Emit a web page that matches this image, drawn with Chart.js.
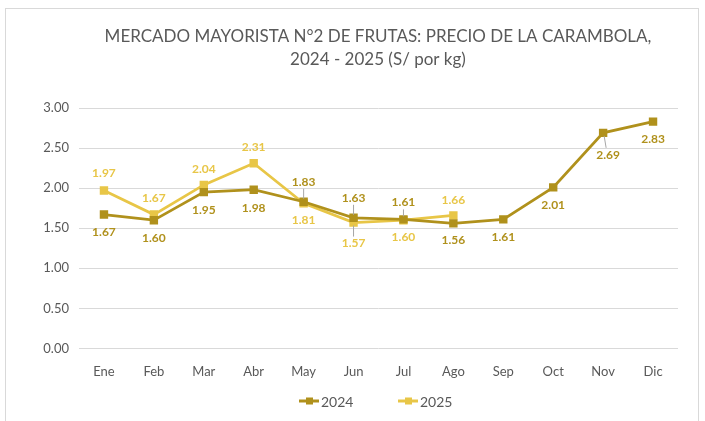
<!DOCTYPE html>
<html>
<head>
<meta charset="utf-8">
<script src="https://cdn.jsdelivr.net/npm/chart.js@4"></script>
<style>
  html, body { margin: 0; padding: 0; background: #fff; }
  #wrap { position: relative; width: 705px; height: 421px; }
  #frame { position: absolute; left: 5px; top: 8px; width: 694px; height: 420px; border: 1px solid #d9d9d9; box-sizing: border-box; }
  canvas { position: absolute; left: 0; top: 0; }
</style>
</head>
<body>
<div id="wrap">
  <div id="frame"></div>
  <canvas id="chart" width="705" height="421"></canvas>
</div>
<script>
const months = ['Ene', 'Feb', 'Mar', 'Abr', 'May', 'Jun', 'Jul', 'Ago', 'Sep', 'Oct', 'Nov', 'Dic'];
const price2024 = [1.67, 1.60, 1.95, 1.98, 1.83, 1.63, 1.61, 1.56, 1.61, 2.01, 2.69, 2.83];
const price2025 = [1.97, 1.67, 2.04, 2.31, 1.81, 1.57, 1.60, 1.66];
const yTicks = [0, 0.5, 1, 1.5, 2, 2.5, 3];
const titleLines = ['MERCADO MAYORISTA N°2 DE FRUTAS: PRECIO DE LA CARAMBOLA,', '2024 - 2025 (S/ por kg)'];

const col2024 = '#b0911c';
const col2025 = '#e8c647';
const fontFam = 'Lato, "Open Sans", sans-serif';

// where each value label sits relative to its point (dx, dy) and if it gets a leader line
const lab2024 = [[0,18],[0,18],[0,18],[0,18],[0,-20],[0,-20],[0,-17],[0,17],[0,18],[0,18],[5,22],[0,18]];
const lead2024 = [0,0,0,0,1,1,1,0,0,0,1,0];
const lab2025 = [[0,-17],[0,-16],[0,-16],[0,-16],[0,17],[0,21],[0,17],[0,-15]];
const lead2025 = [0,0,0,0,0,1,0,0];

const valueLabels = {
    id: 'valueLabels',
    afterDatasetsDraw(chart) {
        const ctx = chart.ctx;
        const sets = [[lab2024, lead2024, col2024], [lab2025, lead2025, col2025]];
        ctx.save();
        ctx.font = 'bold 12px ' + fontFam;
        ctx.textAlign = 'center';
        ctx.textBaseline = 'middle';
        chart.data.datasets.forEach((ds, di) => {
            const meta = chart.getDatasetMeta(di);
            const [offs, leads, c] = sets[di];
            meta.data.forEach((pt, i) => {
                const dx = offs[i][0], dy = offs[i][1];
                if (leads[i]) {
                    ctx.strokeStyle = '#a6a6a6';
                    ctx.lineWidth = 1;
                    const s = dy > 0 ? 1 : -1;
                    ctx.beginPath();
                    ctx.moveTo(pt.x + dx * 0.2, pt.y + s * 3);
                    ctx.lineTo(pt.x + dx * 0.6, pt.y + dy - s * 7);
                    ctx.stroke();
                }
                ctx.fillStyle = c;
                ctx.fillText(ds.data[i].toFixed(2), pt.x + dx, pt.y + dy);
            });
        });
        ctx.restore();
    }
};

// title (sits a bit right of centre, as in the original) and legend
const extras = {
    id: 'extras',
    afterDraw(chart) {
        const ctx = chart.ctx;
        ctx.save();
        ctx.fillStyle = '#595959';
        ctx.font = '17px ' + fontFam;
        ctx.textAlign = 'center';
        ctx.textBaseline = 'middle';
        ctx.fillText(titleLines[0], 378, 37);
        ctx.fillText(titleLines[1], 378, 60);

        const items = [['2024', col2024, 299], ['2025', col2025, 398]];
        const y = 401;
        ctx.font = '14px ' + fontFam;
        ctx.textAlign = 'left';
        items.forEach(([t, c, x]) => {
            ctx.strokeStyle = c;
            ctx.lineWidth = 3;
            ctx.beginPath();
            ctx.moveTo(x, y);
            ctx.lineTo(x + 20, y);
            ctx.stroke();
            ctx.fillStyle = c;
            ctx.fillRect(x + 7, y - 3.5, 7, 7);
            ctx.fillStyle = '#595959';
            ctx.fillText(t, x + 22, y + 1);
        });
        ctx.restore();
    }
};

new Chart('chart', {
    type: 'line',
    data: {
        labels: months,
        datasets: [
            { label: '2024', data: price2024, borderColor: col2024, backgroundColor: col2024,
              borderWidth: 2.75, pointStyle: 'rect', pointRadius: 4, pointHoverRadius: 4, tension: 0 },
            { label: '2025', data: price2025, borderColor: col2025, backgroundColor: col2025,
              borderWidth: 2.75, pointStyle: 'rect', pointRadius: 4, pointHoverRadius: 4, tension: 0 }
        ]
    },
    options: {
        responsive: false,
        animation: false,
        events: [],
        layout: { padding: { left: 0, right: 27, top: 108, bottom: 33 } },
        plugins: {
            legend: { display: false },
            tooltip: { enabled: false },
            title: { display: false }
        },
        scales: {
            x: {
                offset: true,
                grid: { display: false },
                border: { display: false },
                ticks: { color: '#595959', font: { family: fontFam, size: 13 }, padding: 8 }
            },
            y: {
                min: 0, max: 3,
                afterBuildTicks(s) { s.ticks = yTicks.map(v => ({ value: v })); },
                afterFit(s) { s.width = 79; },
                grid: { color: '#d9d9d9', lineWidth: 1, drawTicks: false },
                border: { display: false },
                ticks: { color: '#595959', font: { family: fontFam, size: 13 }, padding: 10,
                         callback: v => v.toFixed(2) }
            }
        }
    },
    plugins: [valueLabels, extras]
});
</script>
</body>
</html>
